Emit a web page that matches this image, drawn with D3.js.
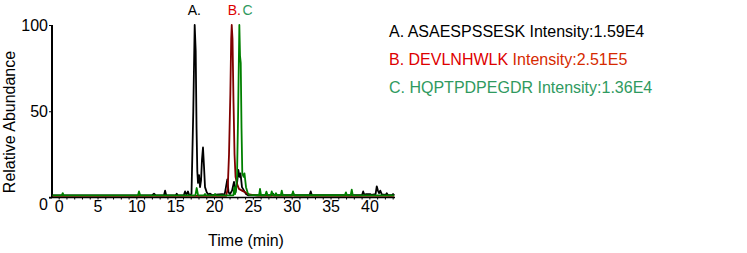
<!DOCTYPE html>
<html>
<head>
<meta charset="utf-8">
<script src="https://cdn.jsdelivr.net/npm/d3@7"></script>
<style>
  body { margin: 0; background: #fff; }
  svg { display: block; font-family: "Liberation Sans", Arial, sans-serif; }
</style>
</head>
<body>
<svg id="chart" width="747" height="253"></svg>
<script>
// chromatogram traces, [time (min), relative abundance]
const traceA = [[-0.8,1.2],[12.0,1.2],[12.27,2.2],[12.5,1.2],[13.55,1.2],[13.7,4],[13.85,1.2],[15.05,1.2],[15.2,2.2],[15.35,1.2],
  [16.1,1.2],[16.27,3.5],[16.45,1.5],[16.65,3.5],[16.8,1.3],[17.1,2],[17.33,50],[17.51,100],[17.64,85],[17.75,40],[17.85,15],
  [17.94,8.5],[18.07,13],[18.2,6],[18.33,10],[18.45,22],[18.58,29],[18.71,18],[18.84,6],[19.06,3],[19.25,1.8],[19.5,2.2],
  [19.8,1.3],[20.26,1.6],[21.05,2],[21.3,1.5],[21.42,3],[21.71,10.5],[21.87,3],[22.06,2],[22.32,4],[22.57,9],[22.77,3],
  [22.96,8],[23.13,16],[23.28,12],[23.41,14],[23.6,6],[23.86,4],[24.12,2],[24.38,1.3],[27.45,1.3],[27.6,2.2],[27.75,1.3],
  [30.0,1.3],[30.17,2.5],[30.35,1.3],[32.3,1.3],[32.45,3.5],[32.6,1.3],[39.05,1.3],[39.2,3.5],[39.35,1.5],[39.6,2],[40.1,2],
  [40.3,1.5],[40.8,2],[40.95,6.5],[41.1,4],[41.25,2.5],[41.4,4],[41.6,1.8],[42.1,1.5],[42.24,2.5],[42.4,1.3],[42.9,1.3],
  [43.05,2],[43.2,1.3]];

const traceB = [[-0.8,0.9],[21.55,0.9],[21.76,5],[21.93,25],[22.1,60],[22.21,92],[22.28,100],[22.38,92],[22.51,55],
  [22.64,25],[22.77,12],[22.96,8],[23.21,5],[23.6,4],[23.99,3],[24.38,2],[24.9,1.5],[25.67,1.1],[43.2,0.9]];

const traceC = [[-0.8,1.2],[0.4,1.2],[0.52,2.5],[0.65,1.2],[10.2,1.2],[10.34,3.5],[10.5,1.2],[17.6,1.2],[17.77,5.5],
  [17.95,1.2],[18.7,1.2],[18.84,2],[19.0,1.2],[20.0,1.2],[20.13,2],[20.3,1.2],[22.5,1.3],[22.6,6],[22.71,2],[22.83,5],
  [22.96,12],[23.09,45],[23.26,100],[23.35,82],[23.44,78],[23.54,40],[23.64,14],[23.8,12],[23.92,14],[24.12,6],[24.31,3],
  [24.5,1.5],[25.8,1.3],[25.92,5],[26.05,1.3],[26.6,1.3],[26.74,3.4],[26.9,1.3],[27.3,1.3],[27.43,3.5],[27.6,1.3],
  [27.85,1.3],[27.98,2.5],[28.1,1.3],[28.6,1.3],[28.72,4],[28.85,1.3],[30.05,1.3],[30.17,3.5],[30.3,1.3],[36.85,1.3],
  [36.98,3],[37.1,1.3],[37.6,1.3],[37.73,4.5],[37.86,1.3],[43.2,1.2]];

const peakLabels = ['A.', 'B.', 'C'];
const peakTimes = [17.51, 22.28, 23.26];
const legendLabels = ['A. ASAESPSSESK', 'B. DEVLNHWLK', 'C. HQPTPDPEGDR'];
const intensities = ['Intensity:1.59E4', 'Intensity:2.51E5', 'Intensity:1.36E4'];
const xTicks = [0, 5, 10, 15, 20, 25, 30, 35, 40];
const yTicks = [0, 50, 100];

const lineColors = ['#000000', '#800000', '#008000'];
const textColors = ['#000000', '#dd0000', '#2f9a60'];
const intensityColors = ['#000000', '#d62a00', '#2f9a60'];

const svg = d3.select('#chart');

const xScale = d3.scaleLinear()
  .domain([-0.86, 43.3])
  .range([52, 395]);

const yScale = d3.scaleLinear()
  .domain([0, 100])
  .range([197.5, 25]);

// y axis
const yAxis = svg.append('g')
  .attr('transform', 'translate(52,0)')
  .call(d3.axisLeft(yScale).tickValues(yTicks).tickSize(3).tickPadding(1));
yAxis.select('.domain').attr('stroke', '#000').attr('stroke-width', 2)
  .attr('d', `M0,${yScale(100)}V${yScale(0)}`);
yAxis.selectAll('.tick line').attr('stroke', '#000').attr('stroke-width', 1);
yAxis.selectAll('.tick text')
  .attr('font-size', 16)
  .attr('fill', '#000')
  .attr('dy', d => d === 0 ? '0.75em' : '0.35em');

// x axis, minor ticks every minute
const xAxis = svg.append('g')
  .attr('transform', `translate(0,${yScale(0)})`)
  .call(d3.axisBottom(xScale).tickValues(d3.range(0, 44, 1)).tickSize(2)
    .tickFormat(d => xTicks.includes(d) ? d : ''));
xAxis.select('.domain').attr('stroke', '#000').attr('stroke-width', 1.5)
  .attr('d', `M49,0H${xScale.range()[1]}`);
xAxis.selectAll('.tick line').attr('stroke', '#000');
xAxis.selectAll('.tick text')
  .attr('font-size', 16)
  .attr('fill', '#000')
  .attr('y', 3);

// axis titles
svg.append('text')
  .attr('transform', 'translate(15,122) rotate(-90)')
  .attr('text-anchor', 'middle')
  .attr('font-size', 16)
  .text('Relative Abundance');

svg.append('text')
  .attr('x', 246)
  .attr('y', 246)
  .attr('text-anchor', 'middle')
  .attr('font-size', 16)
  .text('Time (min)');

// traces
const line = d3.line()
  .x(d => xScale(d[0]))
  .y(d => yScale(d[1]));

[traceA, traceB, traceC].forEach((tr, i) => {
  svg.append('path')
    .datum(tr)
    .attr('fill', 'none')
    .attr('stroke', lineColors[i])
    .attr('stroke-width', 1.8)
    .attr('stroke-linejoin', 'round')
    .attr('d', line);
});

// peak labels
svg.append('text')
  .attr('x', xScale(peakTimes[0]) - 7)
  .attr('y', 15)
  .attr('font-size', 14)
  .attr('fill', textColors[0])
  .text(peakLabels[0]);

const bc = svg.append('text')
  .attr('x', xScale(peakTimes[1]) - 4)
  .attr('y', 15)
  .attr('font-size', 14);
bc.append('tspan').attr('fill', textColors[1]).text(peakLabels[1]);
bc.append('tspan').attr('fill', textColors[2]).attr('dx', 1.5).text(peakLabels[2]);

// legend
legendLabels.forEach((lab, i) => {
  const t = svg.append('text')
    .attr('x', 389)
    .attr('y', 36.5 + i * 28.3)
    .attr('font-size', 16);
  t.append('tspan').attr('fill', textColors[i]).text(lab + ' ');
  t.append('tspan').attr('fill', intensityColors[i]).text(intensities[i]);
});
</script>
</body>
</html>
